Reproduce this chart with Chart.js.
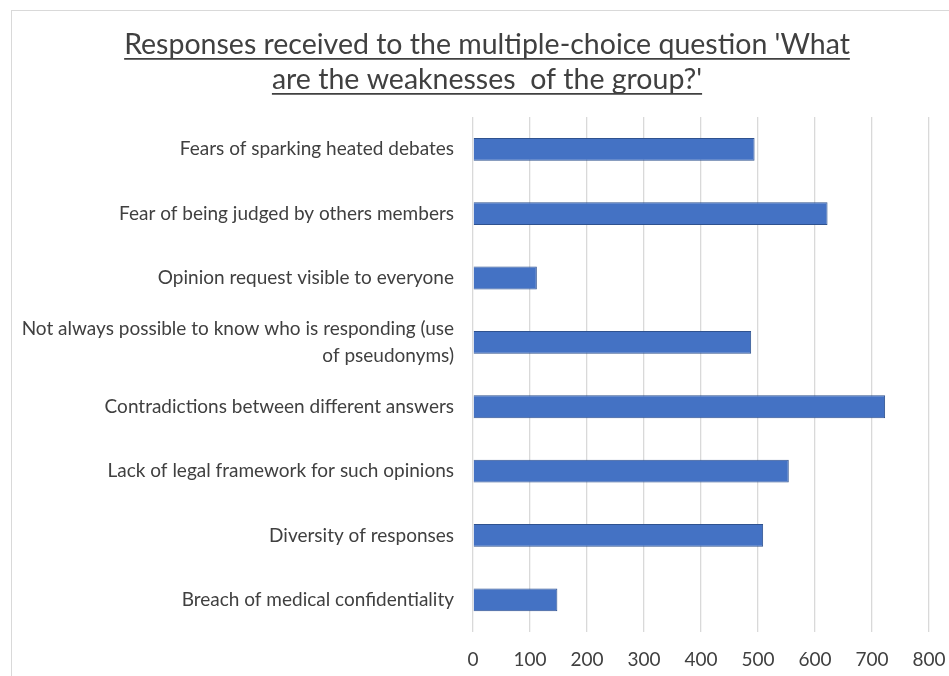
<!DOCTYPE html>
<html>
<head>
<meta charset="utf-8">
<script src="https://cdn.jsdelivr.net/npm/chart.js@4/dist/chart.umd.min.js"></script>
<style>
    html, body { margin: 0; padding: 0; background: #fff; }
    .frame {
        position: absolute; left: 0; top: 0; width: 949px; height: 676px; overflow: hidden;
    }
    .frame .edge {
        position: absolute; left: 11px; top: 10px; width: 960px; height: 700px;
        border-left: 1px solid #d9d9d9; border-top: 1px solid #d9d9d9;
    }
    canvas { position: absolute; left: 0; top: 0; }
</style>
</head>
<body>
<div class="frame">
    <div class="edge"></div>
    <canvas id="barCanvas" width="949" height="676"></canvas>
</div>
<script>
var categories = [
    "Fears of sparking heated debates",
    "Fear of being judged by others members",
    "Opinion request visible to everyone",
    ["Not always possible to know who is responding (use", "of pseudonyms)"],
    "Contradictions between different answers",
    "Lack of legal framework for such opinions",
    "Diversity of responses",
    "Breach of medical confidentiality"
];
var responses = [494, 622, 112, 488, 723, 554, 509, 148];
var tickValues = [0, 100, 200, 300, 400, 500, 600, 700, 800];
var titleLines = ["Responses received to the multiple-choice question 'What", "are the weaknesses  of the group?'"];

var textColor = '#404040';
var fontFamily = 'Lato, "Open Sans", sans-serif';

// title is centred a bit right of the canvas middle, and underlined
var underlineTitle = {
    id: 'underlineTitle',
    afterLayout: function (chart) {
        if (chart.titleBlock) chart.titleBlock.left += 45;
    },
    afterDraw: function (chart) {
        var tb = chart.titleBlock;
        if (!tb) return;
        var ctx = chart.ctx;
        var font = Chart.helpers.toFont(tb.options.font);
        ctx.save();
        ctx.font = font.string;
        ctx.strokeStyle = textColor;
        ctx.lineWidth = 1.8;
        var cx = (tb.left + tb.right) / 2;
        var top = tb.top + tb.options.padding.top;
        titleLines.forEach(function (line, i) {
            var w = ctx.measureText(line).width;
            var y = top + font.lineHeight * i + font.lineHeight / 2 + font.size * 0.5;
            ctx.beginPath();
            ctx.moveTo(cx - w / 2, y);
            ctx.lineTo(cx + w / 2, y);
            ctx.stroke();
        });
        ctx.restore();
    }
};

window.onload = function () {
    var ctx = document.getElementById("barCanvas").getContext("2d");
    window.myBar = new Chart(ctx, {
        type: 'bar',
        data: {
            labels: categories,
            datasets: [{
                label: 'Responses',
                data: responses,
                backgroundColor: '#4472C4',
                borderColor: '#2F528F',
                borderWidth: 1,
                categoryPercentage: 1,
                barPercentage: 0.354
            }]
        },
        plugins: [underlineTitle],
        options: {
            indexAxis: 'y',
            responsive: false,
            animation: false,
            layout: {
                padding: { left: 0, right: 20, top: 0, bottom: 0 }
            },
            plugins: {
                legend: { display: false },
                tooltip: { enabled: false },
                title: {
                    display: true,
                    text: titleLines,
                    color: textColor,
                    font: { family: fontFamily, size: 28.5, weight: 'normal', lineHeight: 1.23 },
                    padding: { top: 27, bottom: 20 }
                }
            },
            scales: {
                x: {
                    min: 0,
                    max: 800,
                    afterBuildTicks: function (scale) {
                        scale.ticks = tickValues.map(function (v) { return { value: v }; });
                    },
                    afterFit: function (scale) { scale.height = 44; },
                    grid: { color: '#d9d9d9', lineWidth: 1.3, drawTicks: true, tickLength: 16, tickColor: 'rgba(0,0,0,0)' },
                    border: { display: false },
                    ticks: {
                        color: textColor,
                        padding: 0,
                        maxRotation: 0,
                        font: { family: fontFamily, size: 19 }
                    }
                },
                y: {
                    afterFit: function (scale) { scale.width = 473; },
                    grid: { display: false },
                    border: { display: false },
                    ticks: {
                        color: textColor,
                        padding: 11,
                        font: { family: fontFamily, size: 19, lineHeight: 1.37 }
                    }
                }
            }
        }
    });
};
</script>
</body>
</html>
